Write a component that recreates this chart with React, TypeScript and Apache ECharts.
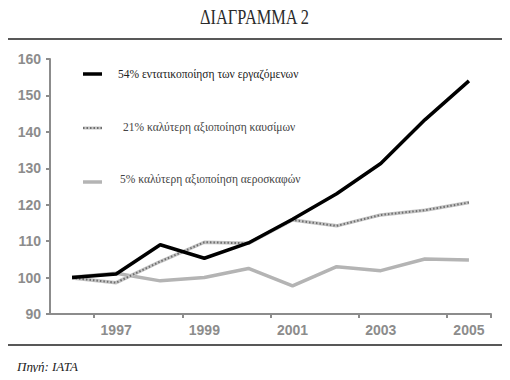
import React, { useEffect, useRef } from "react";
import * as echarts from "echarts";

const years = ["1996", "1997", "1998", "1999", "2000", "2001", "2002", "2003", "2004", "2005"];
const workforce = [100, 101, 109, 105.3, 109.5, 116, 123, 131.3, 143.3, 154];
const fuel = [99.9, 98.6, 104.4, 109.7, 109.4, 115.8, 114.2, 117.2, 118.5, 120.6];
const aircraft = [100.1, 101.2, 99.1, 100, 102.5, 97.7, 103, 101.9, 105.1, 104.8];
const legendLabels = [
  "54% εντατικοποίηση των εργαζόμενων",
  "21% καλύτερη αξιοποίηση καυσίμων",
  "5% καλύτερη αξιοποίηση αεροσκαφών",
];
const titleText = "ΔΙΑΓΡΑΜΜΑ 2";
const sourceText = "Πηγή: ΙΑΤΑ";

export default function App() {
  const ref = useRef<HTMLDivElement>(null);
  useEffect(() => {
    if (!ref.current) return;
    const chart = echarts.init(ref.current, null, { renderer: "svg" });
    const axisLabelStyle = {
      color: "#8c8c8c",
      fontFamily: "Liberation Sans",
      fontWeight: "bold" as const,
      fontSize: 14,
    };
    const serif = "Liberation Serif";
    chart.setOption({
      animation: false,
      backgroundColor: "#ffffff",
      grid: [
        { left: 50, right: 19, top: 59, bottom: 66, containLabel: false },
        {
          left: 4,
          top: 39,
          width: 501,
          height: 306,
          show: true,
          borderColor: "#222222",
          borderWidth: 1.5,
          backgroundColor: "rgba(0,0,0,0)",
          z: 1,
        },
      ],
      xAxis: [
        {
          type: "category",
          data: years,
          boundaryGap: true,
          axisLine: { lineStyle: { color: "#8c8c8c", width: 2 } },
          axisTick: { show: true, length: 4, lineStyle: { color: "#8c8c8c", width: 2 } },
          axisLabel: {
            ...axisLabelStyle,
            margin: 9,
            interval: (i: number) => i % 2 === 1,
          },
          splitLine: { show: false },
        },
        { gridIndex: 1, type: "value", show: false },
      ],
      yAxis: [
        {
          type: "value",
          min: 90,
          max: 160,
          interval: 10,
          axisLine: { show: true, lineStyle: { color: "#8c8c8c", width: 2 } },
          axisTick: { show: true, length: 4, lineStyle: { color: "#8c8c8c", width: 2 } },
          axisLabel: { ...axisLabelStyle, margin: 9 },
          splitLine: { show: false },
        },
        { gridIndex: 1, type: "value", show: false },
      ],
      series: [
        {
          name: legendLabels[2],
          type: "line",
          data: aircraft,
          symbol: "none",
          lineStyle: { color: "#b4b4b4", width: 3.5 },
          z: 2,
        },
        {
          name: legendLabels[1],
          type: "line",
          data: fuel,
          symbol: "none",
          lineStyle: { color: "#c4c4c4", width: 3.5 },
          z: 3,
        },
        {
          name: legendLabels[1] + " ",
          type: "line",
          data: fuel,
          symbol: "none",
          lineStyle: { color: "#6e6e6e", width: 2, type: [1.5, 2] },
          z: 4,
        },
        {
          name: legendLabels[0],
          type: "line",
          data: workforce,
          symbol: "none",
          lineStyle: { color: "#000000", width: 3.5 },
          z: 5,
        },
      ],
      graphic: [
        {
          type: "text",
          left: "center",
          top: 6,
          scaleX: 0.78,
          style: {
            text: titleText,
            fontFamily: serif,
            fontSize: 21,
            fill: "#2a2a2a",
          },
        },
        {
          type: "text",
          left: 17,
          top: 360,
          style: {
            text: sourceText,
            fontFamily: serif,
            fontStyle: "italic",
            fontSize: 13,
            fill: "#222",
          },
        },
        {
          type: "line",
          shape: { x1: 83, y1: 74, x2: 102, y2: 74 },
          style: { stroke: "#000", lineWidth: 3.5 },
        },
        {
          type: "text",
          left: 118,
          top: 68,
          style: { text: legendLabels[0], fontFamily: serif, fontSize: 11.5, fill: "#222" },
        },
        {
          type: "line",
          shape: { x1: 83, y1: 128, x2: 102, y2: 128 },
          style: { stroke: "#c4c4c4", lineWidth: 3 },
        },
        {
          type: "line",
          shape: { x1: 83, y1: 128, x2: 102, y2: 128 },
          style: { stroke: "#6e6e6e", lineWidth: 2, lineDash: [1.5, 2] },
        },
        {
          type: "text",
          left: 123,
          top: 121,
          style: { text: legendLabels[1], fontFamily: serif, fontSize: 11.5, fill: "#444" },
        },
        {
          type: "line",
          shape: { x1: 83, y1: 182, x2: 102, y2: 182 },
          style: { stroke: "#b4b4b4", lineWidth: 3.5 },
        },
        {
          type: "text",
          left: 120,
          top: 173,
          style: { text: legendLabels[2], fontFamily: serif, fontSize: 11.5, fill: "#444" },
        },
      ],
    });
    return () => chart.dispose();
  }, []);
  return <div ref={ref} style={{ width: 510, height: 380, margin: -8 }} />;
}
